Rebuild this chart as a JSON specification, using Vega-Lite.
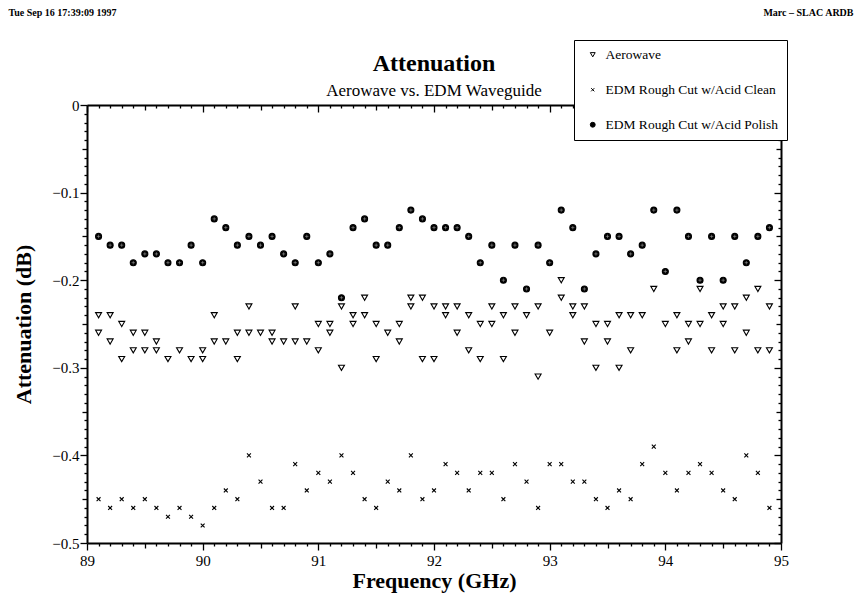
{
"$schema": "https://vega.github.io/schema/vega-lite/v6.json",
"width": 694, "height": 438,
"autosize": "none",
"padding": {"left": 87, "top": 105, "right": 80, "bottom": 54},
"background": "white",
"config": {"view": {"stroke": null}, "font": "Liberation Serif",
 "legend": {"strokeColor": "black", "fillColor": "white", "padding": 8, "labelFont": "Liberation Serif", "labelFontSize": 13.5, "labelColor": "black", "labelLimit": 400, "symbolSize": 24, "rowPadding": 20, "symbolOffset": 4, "symbolStrokeColor": "black", "symbolStrokeWidth": 1, "labelOffset": 6, "cornerRadius": 0}},
"title": {"text": "Attenuation", "subtitle": "Aerowave vs. EDM Waveguide", "font": "Liberation Serif", "fontSize": 24, "fontWeight": "bold", "color": "black", "subtitleFont": "Liberation Serif", "subtitleFontSize": 17, "subtitleColor": "black", "anchor": "middle", "frame": "group", "offset": 0, "dy": 92, "subtitlePadding": 7},
"data": {"values": [
{"f":89.1,"s":"Aerowave","v":-0.24},{"f":89.1,"s":"Aerowave","v":-0.26},
{"f":89.2,"s":"Aerowave","v":-0.24},{"f":89.2,"s":"Aerowave","v":-0.27},
{"f":89.3,"s":"Aerowave","v":-0.25},{"f":89.3,"s":"Aerowave","v":-0.29},
{"f":89.4,"s":"Aerowave","v":-0.26},{"f":89.4,"s":"Aerowave","v":-0.28},
{"f":89.5,"s":"Aerowave","v":-0.26},{"f":89.5,"s":"Aerowave","v":-0.28},
{"f":89.6,"s":"Aerowave","v":-0.27},{"f":89.6,"s":"Aerowave","v":-0.28},
{"f":89.7,"s":"Aerowave","v":-0.29},
{"f":89.8,"s":"Aerowave","v":-0.28},
{"f":89.9,"s":"Aerowave","v":-0.29},
{"f":90.0,"s":"Aerowave","v":-0.28},{"f":90.0,"s":"Aerowave","v":-0.29},
{"f":90.1,"s":"Aerowave","v":-0.24},{"f":90.1,"s":"Aerowave","v":-0.27},
{"f":90.2,"s":"Aerowave","v":-0.27},
{"f":90.3,"s":"Aerowave","v":-0.26},{"f":90.3,"s":"Aerowave","v":-0.29},
{"f":90.4,"s":"Aerowave","v":-0.23},{"f":90.4,"s":"Aerowave","v":-0.26},
{"f":90.5,"s":"Aerowave","v":-0.26},
{"f":90.6,"s":"Aerowave","v":-0.26},{"f":90.6,"s":"Aerowave","v":-0.27},
{"f":90.7,"s":"Aerowave","v":-0.27},
{"f":90.8,"s":"Aerowave","v":-0.23},{"f":90.8,"s":"Aerowave","v":-0.27},
{"f":90.9,"s":"Aerowave","v":-0.27},
{"f":91.0,"s":"Aerowave","v":-0.25},{"f":91.0,"s":"Aerowave","v":-0.28},
{"f":91.1,"s":"Aerowave","v":-0.25},{"f":91.1,"s":"Aerowave","v":-0.26},
{"f":91.2,"s":"Aerowave","v":-0.23},{"f":91.2,"s":"Aerowave","v":-0.30},
{"f":91.3,"s":"Aerowave","v":-0.24},{"f":91.3,"s":"Aerowave","v":-0.25},
{"f":91.4,"s":"Aerowave","v":-0.22},{"f":91.4,"s":"Aerowave","v":-0.24},
{"f":91.5,"s":"Aerowave","v":-0.25},{"f":91.5,"s":"Aerowave","v":-0.29},
{"f":91.6,"s":"Aerowave","v":-0.26},
{"f":91.7,"s":"Aerowave","v":-0.25},{"f":91.7,"s":"Aerowave","v":-0.27},
{"f":91.8,"s":"Aerowave","v":-0.22},{"f":91.8,"s":"Aerowave","v":-0.23},
{"f":91.9,"s":"Aerowave","v":-0.22},{"f":91.9,"s":"Aerowave","v":-0.29},
{"f":92.0,"s":"Aerowave","v":-0.23},{"f":92.0,"s":"Aerowave","v":-0.29},
{"f":92.1,"s":"Aerowave","v":-0.23},{"f":92.1,"s":"Aerowave","v":-0.24},
{"f":92.2,"s":"Aerowave","v":-0.23},{"f":92.2,"s":"Aerowave","v":-0.26},
{"f":92.3,"s":"Aerowave","v":-0.24},{"f":92.3,"s":"Aerowave","v":-0.28},
{"f":92.4,"s":"Aerowave","v":-0.25},{"f":92.4,"s":"Aerowave","v":-0.29},
{"f":92.5,"s":"Aerowave","v":-0.23},{"f":92.5,"s":"Aerowave","v":-0.25},
{"f":92.6,"s":"Aerowave","v":-0.24},{"f":92.6,"s":"Aerowave","v":-0.29},
{"f":92.7,"s":"Aerowave","v":-0.23},{"f":92.7,"s":"Aerowave","v":-0.26},
{"f":92.8,"s":"Aerowave","v":-0.24},
{"f":92.9,"s":"Aerowave","v":-0.23},{"f":92.9,"s":"Aerowave","v":-0.31},
{"f":93.0,"s":"Aerowave","v":-0.26},
{"f":93.1,"s":"Aerowave","v":-0.20},{"f":93.1,"s":"Aerowave","v":-0.22},
{"f":93.2,"s":"Aerowave","v":-0.23},{"f":93.2,"s":"Aerowave","v":-0.24},
{"f":93.3,"s":"Aerowave","v":-0.23},{"f":93.3,"s":"Aerowave","v":-0.27},
{"f":93.4,"s":"Aerowave","v":-0.25},{"f":93.4,"s":"Aerowave","v":-0.30},
{"f":93.5,"s":"Aerowave","v":-0.25},{"f":93.5,"s":"Aerowave","v":-0.27},
{"f":93.6,"s":"Aerowave","v":-0.24},{"f":93.6,"s":"Aerowave","v":-0.30},
{"f":93.7,"s":"Aerowave","v":-0.24},{"f":93.7,"s":"Aerowave","v":-0.28},
{"f":93.8,"s":"Aerowave","v":-0.24},
{"f":93.9,"s":"Aerowave","v":-0.21},
{"f":94.0,"s":"Aerowave","v":-0.25},
{"f":94.1,"s":"Aerowave","v":-0.24},{"f":94.1,"s":"Aerowave","v":-0.28},
{"f":94.2,"s":"Aerowave","v":-0.25},{"f":94.2,"s":"Aerowave","v":-0.27},
{"f":94.3,"s":"Aerowave","v":-0.21},{"f":94.3,"s":"Aerowave","v":-0.25},
{"f":94.4,"s":"Aerowave","v":-0.24},{"f":94.4,"s":"Aerowave","v":-0.28},
{"f":94.5,"s":"Aerowave","v":-0.23},{"f":94.5,"s":"Aerowave","v":-0.25},
{"f":94.6,"s":"Aerowave","v":-0.23},{"f":94.6,"s":"Aerowave","v":-0.28},
{"f":94.7,"s":"Aerowave","v":-0.22},{"f":94.7,"s":"Aerowave","v":-0.26},
{"f":94.8,"s":"Aerowave","v":-0.21},{"f":94.8,"s":"Aerowave","v":-0.28},
{"f":94.9,"s":"Aerowave","v":-0.23},{"f":94.9,"s":"Aerowave","v":-0.28},
{"f":89.1,"s":"EDM Rough Cut w/Acid Clean","v":-0.45},
{"f":89.2,"s":"EDM Rough Cut w/Acid Clean","v":-0.46},
{"f":89.3,"s":"EDM Rough Cut w/Acid Clean","v":-0.45},
{"f":89.4,"s":"EDM Rough Cut w/Acid Clean","v":-0.46},
{"f":89.5,"s":"EDM Rough Cut w/Acid Clean","v":-0.45},
{"f":89.6,"s":"EDM Rough Cut w/Acid Clean","v":-0.46},
{"f":89.7,"s":"EDM Rough Cut w/Acid Clean","v":-0.47},
{"f":89.8,"s":"EDM Rough Cut w/Acid Clean","v":-0.46},
{"f":89.9,"s":"EDM Rough Cut w/Acid Clean","v":-0.47},
{"f":90.0,"s":"EDM Rough Cut w/Acid Clean","v":-0.48},
{"f":90.1,"s":"EDM Rough Cut w/Acid Clean","v":-0.46},
{"f":90.2,"s":"EDM Rough Cut w/Acid Clean","v":-0.44},
{"f":90.3,"s":"EDM Rough Cut w/Acid Clean","v":-0.45},
{"f":90.4,"s":"EDM Rough Cut w/Acid Clean","v":-0.40},
{"f":90.5,"s":"EDM Rough Cut w/Acid Clean","v":-0.43},
{"f":90.6,"s":"EDM Rough Cut w/Acid Clean","v":-0.46},
{"f":90.7,"s":"EDM Rough Cut w/Acid Clean","v":-0.46},
{"f":90.8,"s":"EDM Rough Cut w/Acid Clean","v":-0.41},
{"f":90.9,"s":"EDM Rough Cut w/Acid Clean","v":-0.44},
{"f":91.0,"s":"EDM Rough Cut w/Acid Clean","v":-0.42},
{"f":91.1,"s":"EDM Rough Cut w/Acid Clean","v":-0.43},
{"f":91.2,"s":"EDM Rough Cut w/Acid Clean","v":-0.40},
{"f":91.3,"s":"EDM Rough Cut w/Acid Clean","v":-0.42},
{"f":91.4,"s":"EDM Rough Cut w/Acid Clean","v":-0.45},
{"f":91.5,"s":"EDM Rough Cut w/Acid Clean","v":-0.46},
{"f":91.6,"s":"EDM Rough Cut w/Acid Clean","v":-0.43},
{"f":91.7,"s":"EDM Rough Cut w/Acid Clean","v":-0.44},
{"f":91.8,"s":"EDM Rough Cut w/Acid Clean","v":-0.40},
{"f":91.9,"s":"EDM Rough Cut w/Acid Clean","v":-0.45},
{"f":92.0,"s":"EDM Rough Cut w/Acid Clean","v":-0.44},
{"f":92.1,"s":"EDM Rough Cut w/Acid Clean","v":-0.41},
{"f":92.2,"s":"EDM Rough Cut w/Acid Clean","v":-0.42},
{"f":92.3,"s":"EDM Rough Cut w/Acid Clean","v":-0.44},
{"f":92.4,"s":"EDM Rough Cut w/Acid Clean","v":-0.42},
{"f":92.5,"s":"EDM Rough Cut w/Acid Clean","v":-0.42},
{"f":92.6,"s":"EDM Rough Cut w/Acid Clean","v":-0.45},
{"f":92.7,"s":"EDM Rough Cut w/Acid Clean","v":-0.41},
{"f":92.8,"s":"EDM Rough Cut w/Acid Clean","v":-0.43},
{"f":92.9,"s":"EDM Rough Cut w/Acid Clean","v":-0.46},
{"f":93.0,"s":"EDM Rough Cut w/Acid Clean","v":-0.41},
{"f":93.1,"s":"EDM Rough Cut w/Acid Clean","v":-0.41},
{"f":93.2,"s":"EDM Rough Cut w/Acid Clean","v":-0.43},
{"f":93.3,"s":"EDM Rough Cut w/Acid Clean","v":-0.43},
{"f":93.4,"s":"EDM Rough Cut w/Acid Clean","v":-0.45},
{"f":93.5,"s":"EDM Rough Cut w/Acid Clean","v":-0.46},
{"f":93.6,"s":"EDM Rough Cut w/Acid Clean","v":-0.44},
{"f":93.7,"s":"EDM Rough Cut w/Acid Clean","v":-0.45},
{"f":93.8,"s":"EDM Rough Cut w/Acid Clean","v":-0.41},
{"f":93.9,"s":"EDM Rough Cut w/Acid Clean","v":-0.39},
{"f":94.0,"s":"EDM Rough Cut w/Acid Clean","v":-0.42},
{"f":94.1,"s":"EDM Rough Cut w/Acid Clean","v":-0.44},
{"f":94.2,"s":"EDM Rough Cut w/Acid Clean","v":-0.42},
{"f":94.3,"s":"EDM Rough Cut w/Acid Clean","v":-0.41},
{"f":94.4,"s":"EDM Rough Cut w/Acid Clean","v":-0.42},
{"f":94.5,"s":"EDM Rough Cut w/Acid Clean","v":-0.44},
{"f":94.6,"s":"EDM Rough Cut w/Acid Clean","v":-0.45},
{"f":94.7,"s":"EDM Rough Cut w/Acid Clean","v":-0.40},
{"f":94.8,"s":"EDM Rough Cut w/Acid Clean","v":-0.42},
{"f":94.9,"s":"EDM Rough Cut w/Acid Clean","v":-0.46},
{"f":89.1,"s":"EDM Rough Cut w/Acid Polish","v":-0.15},
{"f":89.2,"s":"EDM Rough Cut w/Acid Polish","v":-0.16},
{"f":89.3,"s":"EDM Rough Cut w/Acid Polish","v":-0.16},
{"f":89.4,"s":"EDM Rough Cut w/Acid Polish","v":-0.18},
{"f":89.5,"s":"EDM Rough Cut w/Acid Polish","v":-0.17},
{"f":89.6,"s":"EDM Rough Cut w/Acid Polish","v":-0.17},
{"f":89.7,"s":"EDM Rough Cut w/Acid Polish","v":-0.18},
{"f":89.8,"s":"EDM Rough Cut w/Acid Polish","v":-0.18},
{"f":89.9,"s":"EDM Rough Cut w/Acid Polish","v":-0.16},
{"f":90.0,"s":"EDM Rough Cut w/Acid Polish","v":-0.18},
{"f":90.1,"s":"EDM Rough Cut w/Acid Polish","v":-0.13},
{"f":90.2,"s":"EDM Rough Cut w/Acid Polish","v":-0.14},
{"f":90.3,"s":"EDM Rough Cut w/Acid Polish","v":-0.16},
{"f":90.4,"s":"EDM Rough Cut w/Acid Polish","v":-0.15},
{"f":90.5,"s":"EDM Rough Cut w/Acid Polish","v":-0.16},
{"f":90.6,"s":"EDM Rough Cut w/Acid Polish","v":-0.15},
{"f":90.7,"s":"EDM Rough Cut w/Acid Polish","v":-0.17},
{"f":90.8,"s":"EDM Rough Cut w/Acid Polish","v":-0.18},
{"f":90.9,"s":"EDM Rough Cut w/Acid Polish","v":-0.15},
{"f":91.0,"s":"EDM Rough Cut w/Acid Polish","v":-0.18},
{"f":91.1,"s":"EDM Rough Cut w/Acid Polish","v":-0.17},
{"f":91.2,"s":"EDM Rough Cut w/Acid Polish","v":-0.22},
{"f":91.3,"s":"EDM Rough Cut w/Acid Polish","v":-0.14},
{"f":91.4,"s":"EDM Rough Cut w/Acid Polish","v":-0.13},
{"f":91.5,"s":"EDM Rough Cut w/Acid Polish","v":-0.16},
{"f":91.6,"s":"EDM Rough Cut w/Acid Polish","v":-0.16},
{"f":91.7,"s":"EDM Rough Cut w/Acid Polish","v":-0.14},
{"f":91.8,"s":"EDM Rough Cut w/Acid Polish","v":-0.12},
{"f":91.9,"s":"EDM Rough Cut w/Acid Polish","v":-0.13},
{"f":92.0,"s":"EDM Rough Cut w/Acid Polish","v":-0.14},
{"f":92.1,"s":"EDM Rough Cut w/Acid Polish","v":-0.14},
{"f":92.2,"s":"EDM Rough Cut w/Acid Polish","v":-0.14},
{"f":92.3,"s":"EDM Rough Cut w/Acid Polish","v":-0.15},
{"f":92.4,"s":"EDM Rough Cut w/Acid Polish","v":-0.18},
{"f":92.5,"s":"EDM Rough Cut w/Acid Polish","v":-0.16},
{"f":92.6,"s":"EDM Rough Cut w/Acid Polish","v":-0.20},
{"f":92.7,"s":"EDM Rough Cut w/Acid Polish","v":-0.16},
{"f":92.8,"s":"EDM Rough Cut w/Acid Polish","v":-0.21},
{"f":92.9,"s":"EDM Rough Cut w/Acid Polish","v":-0.16},
{"f":93.0,"s":"EDM Rough Cut w/Acid Polish","v":-0.18},
{"f":93.1,"s":"EDM Rough Cut w/Acid Polish","v":-0.12},
{"f":93.2,"s":"EDM Rough Cut w/Acid Polish","v":-0.14},
{"f":93.3,"s":"EDM Rough Cut w/Acid Polish","v":-0.21},
{"f":93.4,"s":"EDM Rough Cut w/Acid Polish","v":-0.17},
{"f":93.5,"s":"EDM Rough Cut w/Acid Polish","v":-0.15},
{"f":93.6,"s":"EDM Rough Cut w/Acid Polish","v":-0.15},
{"f":93.7,"s":"EDM Rough Cut w/Acid Polish","v":-0.17},
{"f":93.8,"s":"EDM Rough Cut w/Acid Polish","v":-0.16},
{"f":93.9,"s":"EDM Rough Cut w/Acid Polish","v":-0.12},
{"f":94.0,"s":"EDM Rough Cut w/Acid Polish","v":-0.19},
{"f":94.1,"s":"EDM Rough Cut w/Acid Polish","v":-0.12},
{"f":94.2,"s":"EDM Rough Cut w/Acid Polish","v":-0.15},
{"f":94.3,"s":"EDM Rough Cut w/Acid Polish","v":-0.20},
{"f":94.4,"s":"EDM Rough Cut w/Acid Polish","v":-0.15},
{"f":94.5,"s":"EDM Rough Cut w/Acid Polish","v":-0.20},
{"f":94.6,"s":"EDM Rough Cut w/Acid Polish","v":-0.15},
{"f":94.7,"s":"EDM Rough Cut w/Acid Polish","v":-0.18},
{"f":94.8,"s":"EDM Rough Cut w/Acid Polish","v":-0.15},
{"f":94.9,"s":"EDM Rough Cut w/Acid Polish","v":-0.14}
]},
"layer": [
{
"mark": {"type": "point", "filled": true, "strokeWidth": 1.1, "opacity": 1, "size": 36},
"encoding": {
"x": {"field": "f", "type": "quantitative", "scale": {"domain": [89, 95], "nice": false, "zero": false},
 "axis": {"orient": "bottom", "grid": false,
  "values": [89,89.1,89.2,89.3,89.4,89.5,89.6,89.7,89.8,89.9,90,90.1,90.2,90.3,90.4,90.5,90.6,90.7,90.8,90.9,91,91.1,91.2,91.3,91.4,91.5,91.6,91.7,91.8,91.9,92,92.1,92.2,92.3,92.4,92.5,92.6,92.7,92.8,92.9,93,93.1,93.2,93.3,93.4,93.5,93.6,93.7,93.8,93.9,94,94.1,94.2,94.3,94.4,94.5,94.6,94.7,94.8,94.9,95],
  "format": ".0f",
  "labelExpr": "abs(datum.value - round(datum.value)) < 0.001 ? datum.label : ''",
  "labelOverlap": false, "labelFlush": false, "labelBound": false,
  "tickSize": {"condition": [{"test": "abs(datum.value - round(datum.value)) < 0.001", "value": 7}, {"test": "abs(datum.value*2 - round(datum.value*2)) < 0.001", "value": 5}], "value": 3},
  "tickColor": "black", "tickWidth": 1.3, "domainColor": "black", "domainWidth": 2,
  "labelFont": "Liberation Serif", "labelFontSize": 15, "labelColor": "black", "labelPadding": 3,
  "title": "Frequency (GHz)", "titleFont": "Liberation Serif", "titleFontSize": 22, "titleFontWeight": "bold", "titleColor": "black", "titlePadding": 2}},
"y": {"field": "v", "type": "quantitative", "scale": {"domain": [-0.5, 0], "nice": false, "zero": false},
 "axis": {"orient": "left", "grid": false,
  "values": [0,-0.01,-0.02,-0.03,-0.04,-0.05,-0.06,-0.07,-0.08,-0.09,-0.1,-0.11,-0.12,-0.13,-0.14,-0.15,-0.16,-0.17,-0.18,-0.19,-0.2,-0.21,-0.22,-0.23,-0.24,-0.25,-0.26,-0.27,-0.28,-0.29,-0.3,-0.31,-0.32,-0.33,-0.34,-0.35,-0.36,-0.37,-0.38,-0.39,-0.4,-0.41,-0.42,-0.43,-0.44,-0.45,-0.46,-0.47,-0.48,-0.49,-0.5],
  "format": ".1~f",
  "labelExpr": "abs(datum.value*10 - round(datum.value*10)) < 0.001 ? datum.label : ''",
  "labelOverlap": false, "labelFlush": false, "labelBound": false,
  "tickSize": {"condition": [{"test": "abs(datum.value*10 - round(datum.value*10)) < 0.001", "value": 7}, {"test": "abs(datum.value*20 - round(datum.value*20)) < 0.001", "value": 5}], "value": 3},
  "tickColor": "black", "tickWidth": 1.3, "domainColor": "black", "domainWidth": 2,
  "labelFont": "Liberation Serif", "labelFontSize": 15, "labelColor": "black", "labelPadding": 1,
  "title": "Attenuation (dB)", "titleFont": "Liberation Serif", "titleFontSize": 22, "titleFontWeight": "bold", "titleColor": "black", "titlePadding": 16}},
"shape": {"field": "s", "type": "nominal", "scale": {"domain": ["Aerowave", "EDM Rough Cut w/Acid Clean", "EDM Rough Cut w/Acid Polish"], "range": ["triangle-down", "M-0.65,-0.65L0.65,0.65M0.65,-0.65L-0.65,0.65", "circle"]},
 "legend": {"orient": "none", "legendX": 487, "legendY": -65, "title": null}},
"fill": {"field": "s", "type": "nominal", "scale": {"domain": ["Aerowave", "EDM Rough Cut w/Acid Clean", "EDM Rough Cut w/Acid Polish"], "range": ["white", "black", "black"]},
 "legend": {"orient": "none", "legendX": 487, "legendY": -65, "title": null}},
"stroke": {"field": "s", "type": "nominal", "scale": {"domain": ["Aerowave", "EDM Rough Cut w/Acid Clean", "EDM Rough Cut w/Acid Polish"], "range": ["black", "black", "black"]},
 "legend": {"orient": "none", "legendX": 487, "legendY": -65, "title": null}}
}
},
{
"transform": [{"filter": "datum.s == 'EDM Rough Cut w/Acid Polish'"}],
"mark": {"type": "point", "shape": "M-1,0L1,0M0,-1L0,1", "filled": false, "stroke": "#b0b0b0", "strokeWidth": 0.5, "size": 12, "opacity": 1},
"encoding": {
"x": {"field": "f", "type": "quantitative",
 "axis": {"orient": "top", "grid": false, "labels": false,
  "values": [89,89.1,89.2,89.3,89.4,89.5,89.6,89.7,89.8,89.9,90,90.1,90.2,90.3,90.4,90.5,90.6,90.7,90.8,90.9,91,91.1,91.2,91.3,91.4,91.5,91.6,91.7,91.8,91.9,92,92.1,92.2,92.3,92.4,92.5,92.6,92.7,92.8,92.9,93,93.1,93.2,93.3,93.4,93.5,93.6,93.7,93.8,93.9,94,94.1,94.2,94.3,94.4,94.5,94.6,94.7,94.8,94.9,95],
  "tickSize": {"condition": [{"test": "abs(datum.value - round(datum.value)) < 0.001", "value": -7}, {"test": "abs(datum.value*2 - round(datum.value*2)) < 0.001", "value": -5}], "value": -3},
  "tickColor": "black", "tickWidth": 1.3, "domainColor": "black", "domainWidth": 2,
  "title": "Tue Sep 16 17:39:09 1997", "titleFont": "Liberation Serif", "titleFontSize": 10, "titleFontWeight": "bold", "titleColor": "black", "titleX": -79, "titleY": -93, "titleAlign": "left", "titleBaseline": "middle", "titleAnchor": "start"}},
"y": {"field": "v", "type": "quantitative",
 "axis": {"orient": "right", "grid": false, "labels": false,
  "values": [0,-0.01,-0.02,-0.03,-0.04,-0.05,-0.06,-0.07,-0.08,-0.09,-0.1,-0.11,-0.12,-0.13,-0.14,-0.15,-0.16,-0.17,-0.18,-0.19,-0.2,-0.21,-0.22,-0.23,-0.24,-0.25,-0.26,-0.27,-0.28,-0.29,-0.3,-0.31,-0.32,-0.33,-0.34,-0.35,-0.36,-0.37,-0.38,-0.39,-0.4,-0.41,-0.42,-0.43,-0.44,-0.45,-0.46,-0.47,-0.48,-0.49,-0.5],
  "tickSize": {"condition": [{"test": "abs(datum.value*10 - round(datum.value*10)) < 0.001", "value": -7}, {"test": "abs(datum.value*20 - round(datum.value*20)) < 0.001", "value": -5}], "value": -3},
  "tickColor": "black", "tickWidth": 1.3, "domainColor": "black", "domainWidth": 2,
  "title": "Marc – SLAC ARDB", "titleFont": "Liberation Serif", "titleFontSize": 10, "titleFontWeight": "bold", "titleColor": "black", "titleAngle": 0, "titleX": 72, "titleY": -93, "titleAlign": "right", "titleBaseline": "middle"}}
}
}
],
"resolve": {"axis": {"x": "independent", "y": "independent"}}
}
